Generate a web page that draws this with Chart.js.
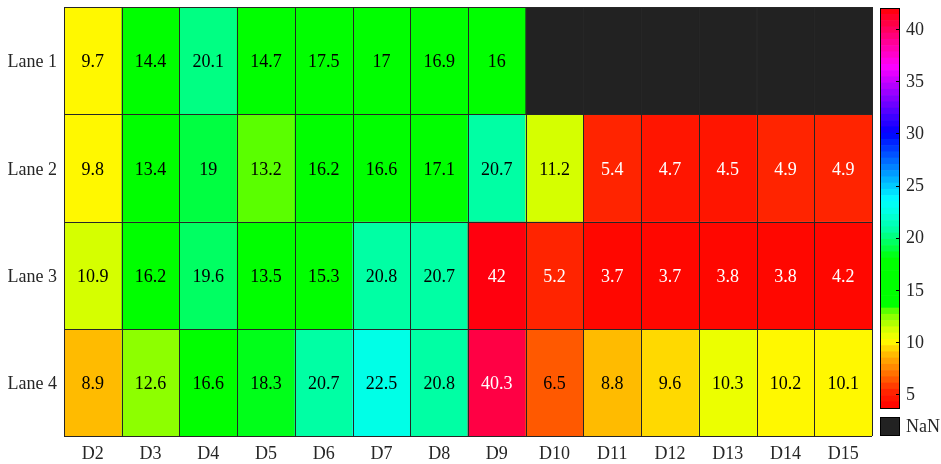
<!DOCTYPE html>
<html>
<head>
<meta charset="utf-8">
<script src="https://cdn.jsdelivr.net/npm/chart.js@4/dist/chart.umd.min.js"></script>
<style>
  html, body { margin: 0; padding: 0; background: #fff; }
  #wrap { position: relative; width: 941px; height: 464px; }
  #wrap canvas { position: absolute; left: 0; top: 0; }
</style>
</head>
<body>
<div id="wrap">
  <canvas id="heat" width="941" height="464"></canvas>
  <canvas id="cbar" width="941" height="464"></canvas>
</div>
<script>
// Categories
const days = ['D2', 'D3', 'D4', 'D5', 'D6', 'D7', 'D8', 'D9', 'D10', 'D11', 'D12', 'D13', 'D14', 'D15'];
const lanes = ['Lane 1', 'Lane 2', 'Lane 3', 'Lane 4'];

// Cell values per lane (null = no measurement)
const lane1 = [9.7, 14.4, 20.1, 14.7, 17.5, 17, 16.9, 16, null, null, null, null, null, null];
const lane2 = [9.8, 13.4, 19, 13.2, 16.2, 16.6, 17.1, 20.7, 11.2, 5.4, 4.7, 4.5, 4.9, 4.9];
const lane3 = [10.9, 16.2, 19.6, 13.5, 15.3, 20.8, 20.7, 42, 5.2, 3.7, 3.7, 3.8, 3.8, 4.2];
const lane4 = [8.9, 12.6, 16.6, 18.3, 20.7, 22.5, 20.8, 40.3, 6.5, 8.8, 9.6, 10.3, 10.2, 10.1];
const laneValues = [lane1, lane2, lane3, lane4];

// Colour scale: hue stops (value -> hue in degrees), with a held green band
const colorMin = 3.7;
const colorMax = 42;
const colorTicks = [5, 10, 15, 20, 25, 30, 35, 40];
const stopValues = [3.7, 5.3, 6.5, 8.9, 9.7, 10.3, 11.2, 12.6, 13.2, 13.5, 17.8, 18.3, 19, 20.1, 20.7, 22.5, 23.6, 30, 36.4, 42];
const stopHues   = [0,   9,   22,  45,  55,  62,   70,   90,   104,  120,  120,  125,  136, 150,  158,  174,  180,  240, 300,  360];
const nLevels = 64;
const nanColor = '#222222';
const gridColor = '#262626';
const textColor = '#262626';
const serif = '"Liberation Serif", "Times New Roman", serif';

function hueAt(v) {
  if (v <= stopValues[0]) return stopHues[0];
  for (let i = 1; i < stopValues.length; i++) {
    if (v <= stopValues[i]) {
      const t = (v - stopValues[i - 1]) / (stopValues[i] - stopValues[i - 1]);
      return stopHues[i - 1] + t * (stopHues[i] - stopHues[i - 1]);
    }
  }
  return stopHues[stopHues.length - 1];
}
function hsv(hDeg) {
  const h = ((hDeg % 360) + 360) % 360 / 60;
  const k = Math.floor(h), f = h - k, q = 1 - f, t = f;
  let r, g, b;
  switch (k) {
    case 0: r = 1; g = t; b = 0; break;
    case 1: r = q; g = 1; b = 0; break;
    case 2: r = 0; g = 1; b = t; break;
    case 3: r = 0; g = q; b = 1; break;
    case 4: r = t; g = 0; b = 1; break;
    default: r = 1; g = 0; b = q;
  }
  return [Math.round(r * 255), Math.round(g * 255), Math.round(b * 255)];
}
const levelStep = (colorMax - colorMin) / nLevels;
function levelOf(v) {
  const i = Math.floor((v - colorMin) / levelStep);
  return Math.max(0, Math.min(nLevels - 1, i));
}
function levelRgb(i) { return hsv(hueAt(colorMin + (i + 0.5) * levelStep)); }
function cssOf(c) { return `rgb(${c[0]},${c[1]},${c[2]})`; }
function cellColor(v) { return v == null ? nanColor : cssOf(levelRgb(levelOf(v))); }
function labelColor(v) {
  const c = levelRgb(levelOf(v));
  const lum = 0.299 * c[0] + 0.587 * c[1] + 0.114 * c[2];
  return lum < 120 ? '#ffffff' : '#000000';
}

// Heatmap: one row of full-width floating bars per lane
const heatDatasets = laneValues.map((vals, r) => ({
  label: lanes[r],
  data: vals.map(() => [r + 0.5, r + 1.5]),
  values: vals,
  backgroundColor: vals.map(cellColor),
  borderWidth: 0,
  grouped: false,
  barPercentage: 1,
  categoryPercentage: 1
}));

const cellLines = {
  id: 'cellLines',
  afterDatasetsDraw(chart) {
    const { ctx, chartArea: a, scales: { x, y } } = chart;
    ctx.save();
    ctx.strokeStyle = gridColor;
    ctx.lineWidth = 1;
    ctx.beginPath();
    const step = (x.getPixelForValue(1) - x.getPixelForValue(0));
    for (let i = 0; i <= days.length; i++) {
      const px = Math.round(x.getPixelForValue(i) - step / 2) + 0.5;
      ctx.moveTo(px, a.top); ctx.lineTo(px, a.bottom);
    }
    for (let r = 0; r <= lanes.length; r++) {
      const py = Math.round(y.getPixelForValue(r + 0.5)) + 0.5;
      ctx.moveTo(a.left, py); ctx.lineTo(a.right, py);
    }
    ctx.stroke();
    ctx.restore();
  }
};

const cellLabels = {
  id: 'cellLabels',
  afterDraw(chart) {
    const { ctx } = chart;
    ctx.save();
    ctx.font = '18px ' + serif;
    ctx.textAlign = 'center';
    ctx.textBaseline = 'middle';
    chart.data.datasets.forEach((ds, di) => {
      chart.getDatasetMeta(di).data.forEach((el, j) => {
        const v = ds.values[j];
        if (v == null) return;
        const p = el.getCenterPoint();
        ctx.fillStyle = labelColor(v);
        ctx.fillText(String(v), p.x, p.y + 2);
      });
    });
    ctx.restore();
  }
};

new Chart(document.getElementById('heat'), {
  type: 'bar',
  data: { labels: days, datasets: heatDatasets },
  options: {
    responsive: false,
    animation: false,
    events: [],
    layout: { padding: { top: 7, right: 69, left: 0, bottom: 0 } },
    plugins: { legend: { display: false }, tooltip: { enabled: false } },
    scales: {
      x: {
        grid: { display: false, drawTicks: false },
        border: { display: false },
        ticks: { color: textColor, font: { family: serif, size: 18 }, padding: 7, maxRotation: 0 },
        afterFit(s) { s.height = 28; s.paddingLeft = 0; s.paddingRight = 0; }
      },
      y: {
        type: 'linear',
        min: 0.5,
        max: 4.5,
        reverse: true,
        grid: { display: false, drawTicks: false },
        border: { display: false },
        afterBuildTicks(s) { s.ticks = lanes.map((_, i) => ({ value: i + 1 })); },
        ticks: {
          color: textColor,
          font: { family: serif, size: 18 },
          padding: 7,
          labelOffset: 2,
          callback: (v) => lanes[v - 1] || ''
        },
        afterFit(s) { s.width = 64; s.paddingTop = 0; s.paddingBottom = 0; }
      }
    }
  },
  plugins: [cellLines, cellLabels]
});

// Colour bar: one floating band per colour level
const barBands = Array.from({ length: nLevels }, (_, i) =>
  [colorMin + i * levelStep, colorMin + (i + 1) * levelStep]);
const barColors = barBands.map((_, i) => cssOf(levelRgb(i)));

const barFrame = {
  id: 'barFrame',
  afterDraw(chart) {
    const { ctx, chartArea: a, scales: { y } } = chart;
    ctx.save();
    ctx.strokeStyle = '#000';
    ctx.lineWidth = 1;
    ctx.strokeRect(Math.round(a.left) + 0.5, Math.round(a.top) + 0.5,
                   Math.round(a.right - a.left) - 1, Math.round(a.bottom - a.top));
    ctx.beginPath();
    colorTicks.forEach(v => {
      const py = Math.round(y.getPixelForValue(v)) + 0.5;
      ctx.moveTo(a.right - 4, py); ctx.lineTo(a.right, py);
    });
    ctx.stroke();
    // NaN swatch
    const top = Math.round(a.bottom) + 9, h = 19;
    ctx.fillStyle = nanColor;
    ctx.fillRect(Math.round(a.left), top, Math.round(a.right - a.left), h);
    ctx.strokeRect(Math.round(a.left) + 0.5, top + 0.5, Math.round(a.right - a.left) - 1, h - 1);
    ctx.fillStyle = textColor;
    ctx.font = '18px ' + serif;
    ctx.textAlign = 'left';
    ctx.textBaseline = 'middle';
    ctx.fillText('NaN', a.right + 6, top + h / 2 + 1);
    ctx.restore();
  }
};

new Chart(document.getElementById('cbar'), {
  type: 'bar',
  data: {
    labels: ['scale'],
    datasets: barBands.map((b, i) => ({
      data: [b],
      backgroundColor: barColors[i],
      borderWidth: 0,
      grouped: false,
      barPercentage: 1,
      categoryPercentage: 1
    }))
  },
  options: {
    responsive: false,
    animation: false,
    events: [],
    layout: { padding: { top: 8, left: 880, right: 0, bottom: 56 } },
    plugins: { legend: { display: false }, tooltip: { enabled: false } },
    scales: {
      x: { display: false },
      y: {
        type: 'linear',
        position: 'right',
        min: colorMin,
        max: colorMax,
        grid: { display: false, drawTicks: false },
        border: { display: false },
        afterBuildTicks(s) { s.ticks = colorTicks.map(v => ({ value: v })); },
        ticks: { color: textColor, font: { family: serif, size: 18 }, padding: 6, labelOffset: 1 },
        afterFit(s) { s.width = 41; s.paddingTop = 0; s.paddingBottom = 0; }
      }
    }
  },
  plugins: [barFrame]
});
</script>
</body>
</html>
